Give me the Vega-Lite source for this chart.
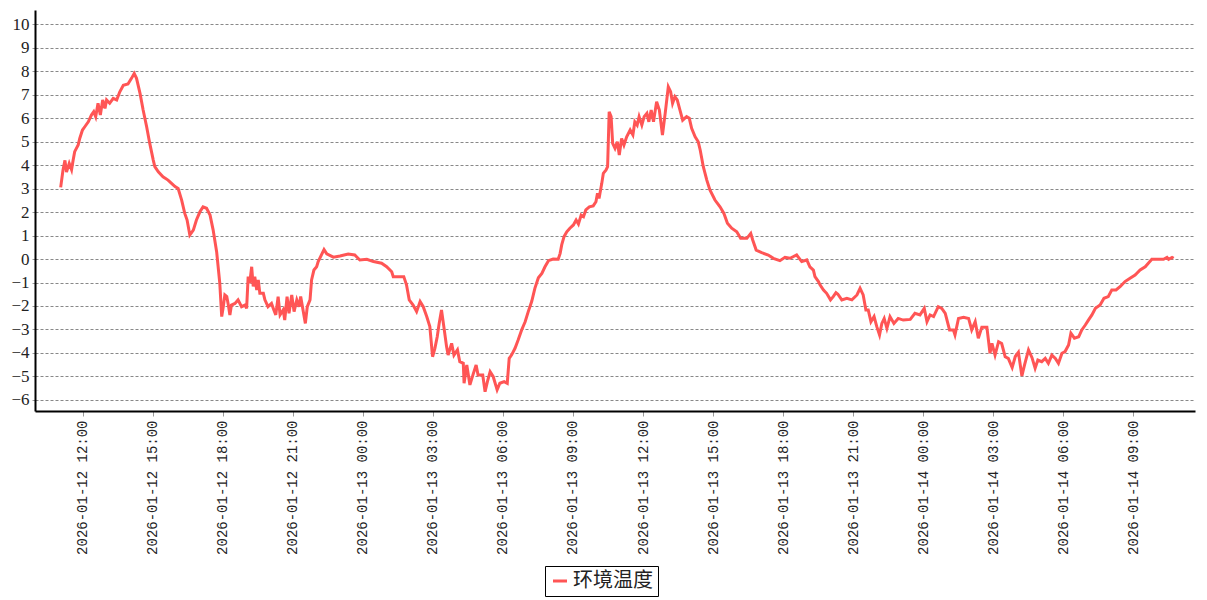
{
  "$schema": "https://vega.github.io/schema/vega-lite/v6.json",
  "width": 1160,
  "height": 401,
  "autosize": {"type": "none"},
  "padding": {"left": 35, "top": 10, "right": 12, "bottom": 189},
  "background": "white",
  "config": {"view": {"stroke": null}},
  "data": {"values": [
    {"t":"2026-01-12T11:03:00Z","v":3.05},{"t":"2026-01-12T11:09:00Z","v":3.79},{"t":"2026-01-12T11:14:00Z","v":4.2},{"t":"2026-01-12T11:18:00Z","v":3.7},
    {"t":"2026-01-12T11:25:00Z","v":4.07},{"t":"2026-01-12T11:31:00Z","v":3.8},{"t":"2026-01-12T11:35:00Z","v":4.2},{"t":"2026-01-12T11:39:00Z","v":4.57},
    {"t":"2026-01-12T11:48:00Z","v":4.85},{"t":"2026-01-12T11:52:00Z","v":5.13},{"t":"2026-01-12T11:59:00Z","v":5.49},{"t":"2026-01-12T12:05:00Z","v":5.63},
    {"t":"2026-01-12T12:14:00Z","v":5.84},{"t":"2026-01-12T12:22:00Z","v":6.13},{"t":"2026-01-12T12:28:00Z","v":6.27},{"t":"2026-01-12T12:33:00Z","v":6.06},
    {"t":"2026-01-12T12:39:00Z","v":6.63},{"t":"2026-01-12T12:45:00Z","v":6.13},{"t":"2026-01-12T12:51:00Z","v":6.77},{"t":"2026-01-12T12:57:00Z","v":6.41},
    {"t":"2026-01-12T13:01:00Z","v":6.77},{"t":"2026-01-12T13:09:00Z","v":6.63},{"t":"2026-01-12T13:18:00Z","v":6.84},{"t":"2026-01-12T13:27:00Z","v":6.77},
    {"t":"2026-01-12T13:35:00Z","v":7.12},{"t":"2026-01-12T13:44:00Z","v":7.4},{"t":"2026-01-12T13:56:00Z","v":7.45},{"t":"2026-01-12T14:05:00Z","v":7.69},
    {"t":"2026-01-12T14:12:00Z","v":7.9},{"t":"2026-01-12T14:18:00Z","v":7.69},{"t":"2026-01-12T14:27:00Z","v":7.05},{"t":"2026-01-12T14:35:00Z","v":6.34},
    {"t":"2026-01-12T14:44:00Z","v":5.63},{"t":"2026-01-12T14:52:00Z","v":4.92},{"t":"2026-01-12T15:01:00Z","v":4.21},{"t":"2026-01-12T15:05:00Z","v":3.93},
    {"t":"2026-01-12T15:14:00Z","v":3.71},{"t":"2026-01-12T15:26:00Z","v":3.5},{"t":"2026-01-12T15:39:00Z","v":3.36},{"t":"2026-01-12T15:48:00Z","v":3.22},
    {"t":"2026-01-12T15:57:00Z","v":3.08},{"t":"2026-01-12T16:05:00Z","v":3.0},{"t":"2026-01-12T16:14:00Z","v":2.51},{"t":"2026-01-12T16:22:00Z","v":1.94},
    {"t":"2026-01-12T16:28:00Z","v":1.66},{"t":"2026-01-12T16:35:00Z","v":1.02},{"t":"2026-01-12T16:44:00Z","v":1.23},{"t":"2026-01-12T16:52:00Z","v":1.66},
    {"t":"2026-01-12T17:01:00Z","v":2.01},{"t":"2026-01-12T17:09:00Z","v":2.22},{"t":"2026-01-12T17:18:00Z","v":2.16},{"t":"2026-01-12T17:27:00Z","v":1.87},
    {"t":"2026-01-12T17:35:00Z","v":1.23},{"t":"2026-01-12T17:44:00Z","v":0.3},{"t":"2026-01-12T17:52:00Z","v":-1.03},{"t":"2026-01-12T17:57:00Z","v":-2.45},
    {"t":"2026-01-12T18:01:00Z","v":-2.03},{"t":"2026-01-12T18:05:00Z","v":-1.53},{"t":"2026-01-12T18:10:00Z","v":-1.6},{"t":"2026-01-12T18:14:00Z","v":-1.96},
    {"t":"2026-01-12T18:18:00Z","v":-2.38},{"t":"2026-01-12T18:22:00Z","v":-1.96},{"t":"2026-01-12T18:31:00Z","v":-1.89},{"t":"2026-01-12T18:39:00Z","v":-1.74},
    {"t":"2026-01-12T18:48:00Z","v":-2.03},{"t":"2026-01-12T18:57:00Z","v":-1.96},{"t":"2026-01-12T19:01:00Z","v":-2.1},{"t":"2026-01-12T19:05:00Z","v":-0.75},
    {"t":"2026-01-12T19:09:00Z","v":-1.03},{"t":"2026-01-12T19:14:00Z","v":-0.33},{"t":"2026-01-12T19:18:00Z","v":-1.17},{"t":"2026-01-12T19:22:00Z","v":-0.75},
    {"t":"2026-01-12T19:27:00Z","v":-1.32},{"t":"2026-01-12T19:31:00Z","v":-0.89},{"t":"2026-01-12T19:35:00Z","v":-1.46},{"t":"2026-01-12T19:44:00Z","v":-1.46},
    {"t":"2026-01-12T19:48:00Z","v":-1.74},{"t":"2026-01-12T19:56:00Z","v":-2.03},{"t":"2026-01-12T20:05:00Z","v":-1.89},{"t":"2026-01-12T20:11:00Z","v":-2.17},
    {"t":"2026-01-12T20:16:00Z","v":-2.38},{"t":"2026-01-12T20:22:00Z","v":-1.6},{"t":"2026-01-12T20:27:00Z","v":-2.38},{"t":"2026-01-12T20:35:00Z","v":-2.17},
    {"t":"2026-01-12T20:39:00Z","v":-2.6},{"t":"2026-01-12T20:45:00Z","v":-1.6},{"t":"2026-01-12T20:50:00Z","v":-2.31},{"t":"2026-01-12T20:57:00Z","v":-1.53},
    {"t":"2026-01-12T21:03:00Z","v":-2.24},{"t":"2026-01-12T21:10:00Z","v":-1.74},{"t":"2026-01-12T21:16:00Z","v":-2.03},{"t":"2026-01-12T21:20:00Z","v":-1.6},
    {"t":"2026-01-12T21:26:00Z","v":-2.17},{"t":"2026-01-12T21:32:00Z","v":-2.74},{"t":"2026-01-12T21:37:00Z","v":-2.03},{"t":"2026-01-12T21:44:00Z","v":-1.74},
    {"t":"2026-01-12T21:48:00Z","v":-0.89},{"t":"2026-01-12T21:54:00Z","v":-0.47},{"t":"2026-01-12T22:01:00Z","v":-0.33},{"t":"2026-01-12T22:05:00Z","v":-0.11},
    {"t":"2026-01-12T22:09:00Z","v":0.03},{"t":"2026-01-12T22:20:00Z","v":0.4},{"t":"2026-01-12T22:27:00Z","v":0.22},{"t":"2026-01-12T22:44:00Z","v":0.08},
    {"t":"2026-01-12T23:01:00Z","v":0.13},{"t":"2026-01-12T23:22:00Z","v":0.21},{"t":"2026-01-12T23:39:00Z","v":0.17},{"t":"2026-01-12T23:52:00Z","v":-0.04},
    {"t":"2026-01-13T00:10:00Z","v":-0.01},{"t":"2026-01-13T00:27:00Z","v":-0.11},{"t":"2026-01-13T00:48:00Z","v":-0.18},{"t":"2026-01-13T01:01:00Z","v":-0.33},
    {"t":"2026-01-13T01:14:00Z","v":-0.54},{"t":"2026-01-13T01:18:00Z","v":-0.75},{"t":"2026-01-13T01:45:00Z","v":-0.75},{"t":"2026-01-13T01:52:00Z","v":-1.1},
    {"t":"2026-01-13T01:59:00Z","v":-1.74},{"t":"2026-01-13T02:09:00Z","v":-1.96},{"t":"2026-01-13T02:18:00Z","v":-2.24},{"t":"2026-01-13T02:27:00Z","v":-1.81},
    {"t":"2026-01-13T02:35:00Z","v":-2.03},{"t":"2026-01-13T02:44:00Z","v":-2.45},{"t":"2026-01-13T02:52:00Z","v":-2.88},{"t":"2026-01-13T02:59:00Z","v":-4.16},
    {"t":"2026-01-13T03:05:00Z","v":-3.8},{"t":"2026-01-13T03:11:00Z","v":-3.31},{"t":"2026-01-13T03:16:00Z","v":-2.74},{"t":"2026-01-13T03:22:00Z","v":-2.17},
    {"t":"2026-01-13T03:28:00Z","v":-2.88},{"t":"2026-01-13T03:35:00Z","v":-3.73},{"t":"2026-01-13T03:39:00Z","v":-4.09},{"t":"2026-01-13T03:48:00Z","v":-3.59},
    {"t":"2026-01-13T03:54:00Z","v":-4.09},{"t":"2026-01-13T04:03:00Z","v":-3.87},{"t":"2026-01-13T04:09:00Z","v":-4.37},{"t":"2026-01-13T04:18:00Z","v":-4.44},
    {"t":"2026-01-13T04:20:00Z","v":-5.29},{"t":"2026-01-13T04:27:00Z","v":-4.51},{"t":"2026-01-13T04:35:00Z","v":-5.36},{"t":"2026-01-13T04:44:00Z","v":-4.87},
    {"t":"2026-01-13T04:51:00Z","v":-4.51},{"t":"2026-01-13T04:56:00Z","v":-4.94},{"t":"2026-01-13T05:08:00Z","v":-4.94},{"t":"2026-01-13T05:14:00Z","v":-5.65},
    {"t":"2026-01-13T05:20:00Z","v":-5.22},{"t":"2026-01-13T05:27:00Z","v":-4.8},{"t":"2026-01-13T05:35:00Z","v":-5.01},{"t":"2026-01-13T05:45:00Z","v":-5.57},
    {"t":"2026-01-13T05:52:00Z","v":-5.29},{"t":"2026-01-13T06:03:00Z","v":-5.22},{"t":"2026-01-13T06:11:00Z","v":-5.29},{"t":"2026-01-13T06:16:00Z","v":-4.23},
    {"t":"2026-01-13T06:22:00Z","v":-4.09},{"t":"2026-01-13T06:31:00Z","v":-3.8},{"t":"2026-01-13T06:39:00Z","v":-3.45},{"t":"2026-01-13T06:48:00Z","v":-3.02},
    {"t":"2026-01-13T06:57:00Z","v":-2.67},{"t":"2026-01-13T07:05:00Z","v":-2.24},{"t":"2026-01-13T07:14:00Z","v":-1.8},{"t":"2026-01-13T07:22:00Z","v":-1.25},
    {"t":"2026-01-13T07:31:00Z","v":-0.8},{"t":"2026-01-13T07:40:00Z","v":-0.61},{"t":"2026-01-13T07:48:00Z","v":-0.33},{"t":"2026-01-13T07:57:00Z","v":-0.07},
    {"t":"2026-01-13T08:09:00Z","v":0.0},{"t":"2026-01-13T08:22:00Z","v":-0.01},{"t":"2026-01-13T08:27:00Z","v":0.24},{"t":"2026-01-13T08:31:00Z","v":0.6},
    {"t":"2026-01-13T08:37:00Z","v":0.95},{"t":"2026-01-13T08:44:00Z","v":1.16},{"t":"2026-01-13T08:52:00Z","v":1.31},{"t":"2026-01-13T09:01:00Z","v":1.45},
    {"t":"2026-01-13T09:08:00Z","v":1.66},{"t":"2026-01-13T09:14:00Z","v":1.49},{"t":"2026-01-13T09:21:00Z","v":1.87},{"t":"2026-01-13T09:27:00Z","v":1.8},
    {"t":"2026-01-13T09:33:00Z","v":2.09},{"t":"2026-01-13T09:42:00Z","v":2.22},{"t":"2026-01-13T09:52:00Z","v":2.26},{"t":"2026-01-13T09:59:00Z","v":2.44},
    {"t":"2026-01-13T10:03:00Z","v":2.8},{"t":"2026-01-13T10:07:00Z","v":2.58},{"t":"2026-01-13T10:14:00Z","v":3.22},{"t":"2026-01-13T10:18:00Z","v":3.65},
    {"t":"2026-01-13T10:25:00Z","v":3.79},{"t":"2026-01-13T10:29:00Z","v":3.93},{"t":"2026-01-13T10:33:00Z","v":6.27},{"t":"2026-01-13T10:38:00Z","v":6.06},
    {"t":"2026-01-13T10:42:00Z","v":4.92},{"t":"2026-01-13T10:48:00Z","v":4.71},{"t":"2026-01-13T10:54:00Z","v":4.99},{"t":"2026-01-13T10:59:00Z","v":4.43},
    {"t":"2026-01-13T11:05:00Z","v":5.13},{"t":"2026-01-13T11:11:00Z","v":4.85},{"t":"2026-01-13T11:18:00Z","v":5.2},{"t":"2026-01-13T11:27:00Z","v":5.49},
    {"t":"2026-01-13T11:34:00Z","v":5.28},{"t":"2026-01-13T11:39:00Z","v":5.84},{"t":"2026-01-13T11:45:00Z","v":5.7},{"t":"2026-01-13T11:50:00Z","v":6.06},
    {"t":"2026-01-13T11:57:00Z","v":5.7},{"t":"2026-01-13T12:03:00Z","v":6.06},{"t":"2026-01-13T12:10:00Z","v":6.2},{"t":"2026-01-13T12:15:00Z","v":5.84},
    {"t":"2026-01-13T12:21:00Z","v":6.34},{"t":"2026-01-13T12:27:00Z","v":5.84},{"t":"2026-01-13T12:35:00Z","v":6.7},{"t":"2026-01-13T12:42:00Z","v":6.34},
    {"t":"2026-01-13T12:50:00Z","v":5.28},{"t":"2026-01-13T12:57:00Z","v":6.2},{"t":"2026-01-13T13:05:00Z","v":7.33},{"t":"2026-01-13T13:11:00Z","v":7.12},
    {"t":"2026-01-13T13:16:00Z","v":6.63},{"t":"2026-01-13T13:22:00Z","v":6.91},{"t":"2026-01-13T13:28:00Z","v":6.77},{"t":"2026-01-13T13:35:00Z","v":6.34},
    {"t":"2026-01-13T13:42:00Z","v":5.91},{"t":"2026-01-13T13:52:00Z","v":6.06},{"t":"2026-01-13T13:59:00Z","v":5.99},{"t":"2026-01-13T14:05:00Z","v":5.56},
    {"t":"2026-01-13T14:14:00Z","v":5.2},{"t":"2026-01-13T14:22:00Z","v":4.99},{"t":"2026-01-13T14:27:00Z","v":4.64},{"t":"2026-01-13T14:35:00Z","v":3.93},
    {"t":"2026-01-13T14:44:00Z","v":3.36},{"t":"2026-01-13T14:52:00Z","v":2.94},{"t":"2026-01-13T15:05:00Z","v":2.51},{"t":"2026-01-13T15:18:00Z","v":2.22},
    {"t":"2026-01-13T15:28:00Z","v":1.94},{"t":"2026-01-13T15:37:00Z","v":1.52},{"t":"2026-01-13T15:48:00Z","v":1.31},{"t":"2026-01-13T16:01:00Z","v":1.16},
    {"t":"2026-01-13T16:11:00Z","v":0.88},{"t":"2026-01-13T16:27:00Z","v":0.88},{"t":"2026-01-13T16:37:00Z","v":1.09},{"t":"2026-01-13T16:42:00Z","v":0.81},
    {"t":"2026-01-13T16:51:00Z","v":0.38},{"t":"2026-01-13T17:05:00Z","v":0.27},{"t":"2026-01-13T17:22:00Z","v":0.17},{"t":"2026-01-13T17:35:00Z","v":0.03},
    {"t":"2026-01-13T17:52:00Z","v":-0.07},{"t":"2026-01-13T18:05:00Z","v":0.07},{"t":"2026-01-13T18:18:00Z","v":0.03},{"t":"2026-01-13T18:35:00Z","v":0.17},
    {"t":"2026-01-13T18:48:00Z","v":-0.11},{"t":"2026-01-13T19:01:00Z","v":-0.04},{"t":"2026-01-13T19:09:00Z","v":-0.33},{"t":"2026-01-13T19:18:00Z","v":-0.47},
    {"t":"2026-01-13T19:22:00Z","v":-0.75},{"t":"2026-01-13T19:31:00Z","v":-0.96},{"t":"2026-01-13T19:35:00Z","v":-1.1},{"t":"2026-01-13T19:44:00Z","v":-1.32},
    {"t":"2026-01-13T19:52:00Z","v":-1.46},{"t":"2026-01-13T20:02:00Z","v":-1.74},{"t":"2026-01-13T20:09:00Z","v":-1.6},{"t":"2026-01-13T20:16:00Z","v":-1.43},
    {"t":"2026-01-13T20:21:00Z","v":-1.5},{"t":"2026-01-13T20:31:00Z","v":-1.74},{"t":"2026-01-13T20:44:00Z","v":-1.67},{"t":"2026-01-13T20:57:00Z","v":-1.74},
    {"t":"2026-01-13T21:10:00Z","v":-1.53},{"t":"2026-01-13T21:18:00Z","v":-1.25},{"t":"2026-01-13T21:26:00Z","v":-1.53},{"t":"2026-01-13T21:33:00Z","v":-2.17},
    {"t":"2026-01-13T21:39:00Z","v":-2.17},{"t":"2026-01-13T21:46:00Z","v":-2.67},{"t":"2026-01-13T21:54:00Z","v":-2.45},{"t":"2026-01-13T22:01:00Z","v":-2.88},
    {"t":"2026-01-13T22:08:00Z","v":-3.23},{"t":"2026-01-13T22:14:00Z","v":-2.74},{"t":"2026-01-13T22:20:00Z","v":-2.53},{"t":"2026-01-13T22:27:00Z","v":-2.95},
    {"t":"2026-01-13T22:35:00Z","v":-2.45},{"t":"2026-01-13T22:45:00Z","v":-2.74},{"t":"2026-01-13T22:56:00Z","v":-2.53},{"t":"2026-01-13T23:09:00Z","v":-2.6},
    {"t":"2026-01-13T23:27:00Z","v":-2.57},{"t":"2026-01-13T23:39:00Z","v":-2.31},{"t":"2026-01-13T23:52:00Z","v":-2.38},{"t":"2026-01-14T00:03:00Z","v":-2.1},
    {"t":"2026-01-14T00:10:00Z","v":-2.67},{"t":"2026-01-14T00:18:00Z","v":-2.38},{"t":"2026-01-14T00:27:00Z","v":-2.45},{"t":"2026-01-14T00:39:00Z","v":-2.03},
    {"t":"2026-01-14T00:48:00Z","v":-2.1},{"t":"2026-01-14T00:57:00Z","v":-2.31},{"t":"2026-01-14T01:08:00Z","v":-3.02},{"t":"2026-01-14T01:18:00Z","v":-3.02},
    {"t":"2026-01-14T01:22:00Z","v":-3.23},{"t":"2026-01-14T01:31:00Z","v":-2.53},{"t":"2026-01-14T01:44:00Z","v":-2.48},{"t":"2026-01-14T01:57:00Z","v":-2.53},
    {"t":"2026-01-14T02:05:00Z","v":-3.02},{"t":"2026-01-14T02:14:00Z","v":-2.67},{"t":"2026-01-14T02:22:00Z","v":-3.37},{"t":"2026-01-14T02:31:00Z","v":-2.9},
    {"t":"2026-01-14T02:44:00Z","v":-2.9},{"t":"2026-01-14T02:52:00Z","v":-4.01},{"t":"2026-01-14T02:57:00Z","v":-3.59},{"t":"2026-01-14T03:05:00Z","v":-4.09},
    {"t":"2026-01-14T03:14:00Z","v":-3.52},{"t":"2026-01-14T03:22:00Z","v":-3.6},{"t":"2026-01-14T03:31:00Z","v":-4.16},{"t":"2026-01-14T03:39:00Z","v":-4.23},
    {"t":"2026-01-14T03:49:00Z","v":-4.62},{"t":"2026-01-14T03:57:00Z","v":-4.15},{"t":"2026-01-14T04:05:00Z","v":-3.97},{"t":"2026-01-14T04:14:00Z","v":-4.98},
    {"t":"2026-01-14T04:21:00Z","v":-4.5},{"t":"2026-01-14T04:31:00Z","v":-3.87},{"t":"2026-01-14T04:40:00Z","v":-4.2},{"t":"2026-01-14T04:48:00Z","v":-4.65},
    {"t":"2026-01-14T04:55:00Z","v":-4.3},{"t":"2026-01-14T05:05:00Z","v":-4.37},{"t":"2026-01-14T05:14:00Z","v":-4.23},{"t":"2026-01-14T05:22:00Z","v":-4.44},
    {"t":"2026-01-14T05:31:00Z","v":-4.09},{"t":"2026-01-14T05:40:00Z","v":-4.23},{"t":"2026-01-14T05:48:00Z","v":-4.44},{"t":"2026-01-14T05:57:00Z","v":-4.01},
    {"t":"2026-01-14T06:05:00Z","v":-3.94},{"t":"2026-01-14T06:14:00Z","v":-3.66},{"t":"2026-01-14T06:20:00Z","v":-3.16},{"t":"2026-01-14T06:29:00Z","v":-3.37},
    {"t":"2026-01-14T06:40:00Z","v":-3.31},{"t":"2026-01-14T06:48:00Z","v":-3.02},{"t":"2026-01-14T06:57:00Z","v":-2.81},{"t":"2026-01-14T07:05:00Z","v":-2.6},
    {"t":"2026-01-14T07:14:00Z","v":-2.38},{"t":"2026-01-14T07:23:00Z","v":-2.1},{"t":"2026-01-14T07:35:00Z","v":-1.96},{"t":"2026-01-14T07:45:00Z","v":-1.67},
    {"t":"2026-01-14T07:56:00Z","v":-1.6},{"t":"2026-01-14T08:05:00Z","v":-1.32},{"t":"2026-01-14T08:16:00Z","v":-1.32},{"t":"2026-01-14T08:27:00Z","v":-1.17},
    {"t":"2026-01-14T08:39:00Z","v":-0.96},{"t":"2026-01-14T08:52:00Z","v":-0.82},{"t":"2026-01-14T09:05:00Z","v":-0.68},{"t":"2026-01-14T09:18:00Z","v":-0.47},
    {"t":"2026-01-14T09:31:00Z","v":-0.33},{"t":"2026-01-14T09:39:00Z","v":-0.18},{"t":"2026-01-14T09:48:00Z","v":-0.01},{"t":"2026-01-14T10:01:00Z","v":-0.01},
    {"t":"2026-01-14T10:18:00Z","v":-0.01},{"t":"2026-01-14T10:27:00Z","v":0.07},{"t":"2026-01-14T10:31:00Z","v":-0.01},{"t":"2026-01-14T10:40:00Z","v":0.07},
    {"t":"2026-01-14T10:44:00Z","v":0.03}
  ]},
  "mark": {"type": "line", "strokeWidth": 3},
  "encoding": {
    "x": {
      "field": "t", "type": "temporal",
      "scale": {"type": "utc", "domain": [1768211820000, 1768390740000], "nice": false},
      "axis": {
        "title": null,
        "values": [1768219200000, 1768230000000, 1768240800000, 1768251600000, 1768262400000, 1768273200000, 1768284000000, 1768294800000, 1768305600000, 1768316400000, 1768327200000, 1768338000000, 1768348800000, 1768359600000, 1768370400000, 1768381200000],
        "labelExpr": "utcFormat(datum.value, '%Y-%m-%d  %H:%M')",
        "labelAngle": 270,
        "labelFont": "Liberation Mono",
        "labelFontSize": 14,
        "labelColor": "#222",
        "labelPadding": 4,
        "labelOverlap": false,
        "domainColor": "#000",
        "domainWidth": 2,
        "tickColor": "#999",
        "tickSize": 5,
        "grid": false
      }
    },
    "y": {
      "field": "v", "type": "quantitative",
      "scale": {"domain": [-6.47, 10.6], "nice": false, "zero": false},
      "axis": {
        "title": null,
        "values": [-6,-5,-4,-3,-2,-1,0,1,2,3,4,5,6,7,8,9,10],
        "labelFont": "Liberation Serif",
        "labelFontSize": 17,
        "labelColor": "#222",
        "labelPadding": 3,
        "domainColor": "#000",
        "domainWidth": 2,
        "tickColor": "#999",
        "tickSize": 3,
        "grid": true,
        "gridColor": "#888",
        "gridDash": [3, 2],
        "gridWidth": 1
      }
    },
    "color": {
      "datum": "环境温度",
      "scale": {"range": ["#ff5555"]},
      "legend": {
        "title": null,
        "orient": "none",
        "legendX": 510,
        "legendY": 556,
        "strokeColor": "#000",
        "padding": 5,
        "labelFont": "Noto Sans CJK SC",
        "labelFontSize": 20,
        "labelColor": "#222",
        "symbolType": "stroke",
        "symbolStrokeWidth": 3,
        "symbolSize": 196,
        "labelOffset": 3
      }
    }
  }
}
